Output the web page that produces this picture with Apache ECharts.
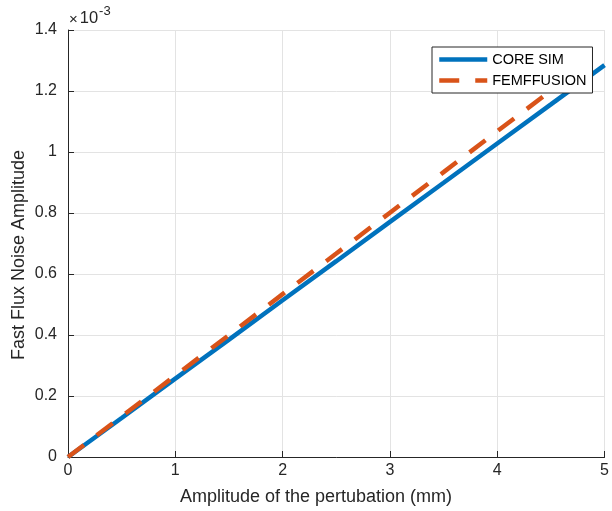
<!DOCTYPE html>
<html>
<head>
<meta charset="utf-8">
<script src="https://cdn.jsdelivr.net/npm/echarts@6/dist/echarts.min.js"></script>
<style>html,body{margin:0;padding:0;background:#fff;}#c{width:612px;height:511px;}</style>
</head>
<body>
<div id="c"></div>
<script>
// Data
const coreSimX = [0, 0.5, 1, 1.5, 2, 2.5, 3, 3.5, 4, 4.5, 5];
const coreSimY = [0, 0.000128, 0.000257, 0.000385, 0.000514, 0.000642, 0.000771, 0.000899, 0.001028, 0.001156, 0.001285];
const femX = [0, 0.5, 1, 1.5, 2, 2.5, 3, 3.5, 4, 4.5, 4.85];
const femY = [0, 0.000133, 0.000267, 0.000400, 0.000534, 0.000667, 0.000801, 0.000934, 0.001068, 0.001201, 0.001295];
const seriesNames = ['CORE SIM', 'FEMFFUSION'];
const xTitle = 'Amplitude of the pertubation (mm)';
const yTitle = 'Fast Flux Noise Amplitude';

const FONT = 'Liberation Sans, Arial, Helvetica, sans-serif';
const AX = '#262626';
const chart = echarts.init(document.getElementById('c'), null, {renderer: 'canvas'});
const zip = (xs, ys) => xs.map((x, i) => [x, ys[i]]);

chart.setOption({
  animation: false,
  backgroundColor: '#fff',
  grid: {left: 68, right: 4, top: 30, bottom: 54, containLabel: false},
  xAxis: {
    type: 'value', min: 0, max: 5, interval: 1,
    axisLine: {show: true, onZero: false, lineStyle: {color: AX, width: 1}},
    axisTick: {show: true, inside: true, length: 6, lineStyle: {color: AX}},
    axisLabel: {fontFamily: FONT, fontSize: 16, color: AX, margin: 6},
    splitLine: {show: true, lineStyle: {color: '#e3e3e3', width: 1}}
  },
  yAxis: {
    type: 'value', min: 0, max: 0.0014, interval: 0.0002,
    axisLine: {show: true, onZero: false, lineStyle: {color: AX, width: 1}},
    axisTick: {show: true, inside: true, length: 6, lineStyle: {color: AX}},
    axisLabel: {fontFamily: FONT, fontSize: 16, color: AX, margin: 11,
      formatter: v => String(Number((v * 1000).toFixed(1)))},
    splitLine: {show: true, lineStyle: {color: '#e3e3e3', width: 1}}
  },
  legend: {
    left: 432, top: 47, orient: 'vertical',
    padding: [5, 6, 5, 5], itemGap: 6, itemWidth: 48, itemHeight: 14,
    borderColor: AX, borderWidth: 1, backgroundColor: '#fff', borderRadius: 0,
    textStyle: {fontFamily: FONT, fontSize: 14.5, color: '#000'},
    lineStyle: {width: 4.5, cap: 'butt'},
    itemStyle: {opacity: 0, borderWidth: 0},
    data: seriesNames
  },
  series: [
    {name: seriesNames[0], type: 'line', data: zip(coreSimX, coreSimY), showSymbol: false, symbol: 'none',
      lineStyle: {color: '#0072BD', width: 4.5}, itemStyle: {color: '#0072BD'}, z: 2},
    {name: seriesNames[1], type: 'line', data: zip(femX, femY), showSymbol: false, symbol: 'none',
      lineStyle: {color: '#D95319', width: 4.5, type: [20, 16], cap: 'butt'}, itemStyle: {color: '#D95319'}, z: 3}
  ],
  graphic: [
    {
      type: 'text', left: 69, top: 5,
      style: {
        text: '{a|×}{b|10}{c|-3}',
        rich: {
          a: {fontFamily: FONT, fontSize: 15, fill: AX, verticalAlign: 'bottom', lineHeight: 22},
          b: {fontFamily: FONT, fontSize: 16.5, fill: AX, verticalAlign: 'bottom', lineHeight: 22, padding: [0, 0, 0, 2]},
          c: {fontFamily: FONT, fontSize: 13, fill: AX, verticalAlign: 'top', lineHeight: 22, padding: [0, 0, 10, 1]}
        }
      }
    },
    {
      type: 'text', x: 316, y: 497,
      style: {text: xTitle, fontFamily: FONT, fontSize: 18, fill: AX, textAlign: 'center', textVerticalAlign: 'middle'}
    },
    {
      type: 'text', x: 19, y: 255, rotation: Math.PI / 2,
      style: {text: yTitle, fontFamily: FONT, fontSize: 18, fill: AX, textAlign: 'center', textVerticalAlign: 'middle'}
    }
  ]
});
</script>
</body>
</html>
